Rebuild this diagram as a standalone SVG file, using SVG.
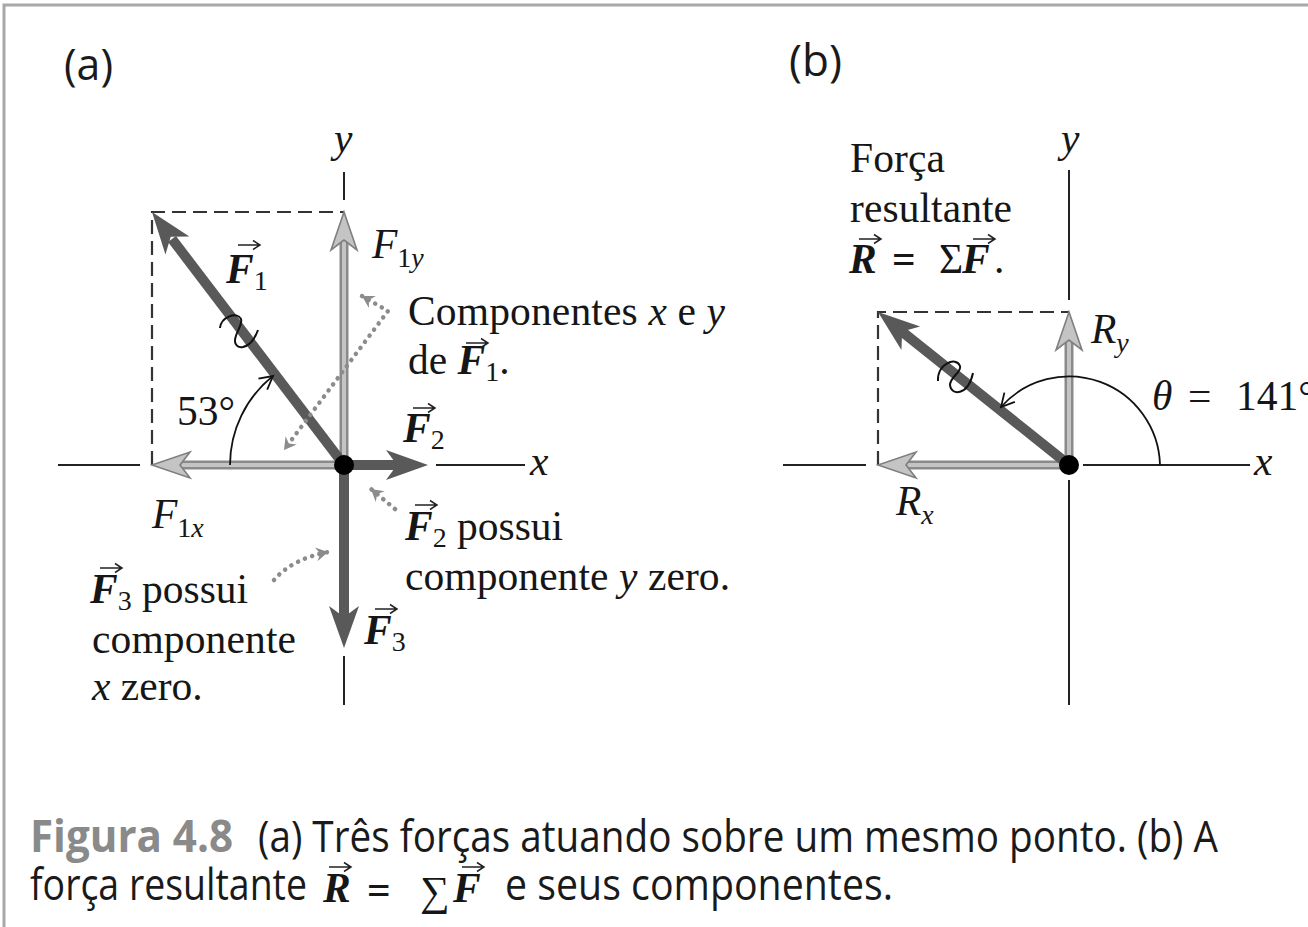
<svg xmlns="http://www.w3.org/2000/svg" xmlns:xlink="http://www.w3.org/1999/xlink" width="1308" height="927" viewBox="0 0 1308 927">
<style>
.ax{stroke:#222;stroke-width:2;fill:none}
.dash{stroke:#333;stroke-width:2.2;fill:none;stroke-dasharray:14 7}
.dk{stroke:#595959;stroke-width:10;fill:none}
.lo{stroke:#8a8a8a;stroke-width:9;fill:none}
.li{stroke:#c4c4c4;stroke-width:4;fill:none}
.arc{stroke:#111;stroke-width:1.8;fill:none}
.sq{stroke:#111;stroke-width:2;fill:none}
.dot{stroke:#8c8c8c;stroke-width:4.5;fill:none;stroke-dasharray:0.1 7.5;stroke-linecap:round}
.t{font-family:"Liberation Serif","Times New Roman",serif;font-size:41.5px;fill:#161616}
.i{font-style:italic}
.b{font-style:italic;font-weight:bold}
.sub{font-size:28px;font-style:normal;font-weight:normal}
.cap{font-family:"Open Sans","DejaVu Sans",sans-serif;font-size:44px;fill:#1a1a1a}
.vec{stroke:#222;stroke-width:1.5;fill:none}
</style>
<defs>
<path id="dh" d="M0,0 L-42,-15 L-31,0 L-42,15 Z" fill="#595959"/>
<path id="lh" d="M0,0 L-38,-13 L-28,0 L-38,13 Z" fill="#c4c4c4" stroke="#7f7f7f" stroke-width="1.6"/>
<path id="va" d="M0,5 H22 M15,0.5 L22,5 L15,9.5" class="vec"/>
<marker id="cm" markerUnits="userSpaceOnUse" markerWidth="20" markerHeight="20" refX="0" refY="0" viewBox="-14 -10 20 20" orient="auto">
<path d="M0,0 L-12,-7 L-8,0 L-12,7 Z" fill="#8c8c8c"/>
</marker>
<marker id="cms" markerUnits="userSpaceOnUse" markerWidth="20" markerHeight="20" refX="0" refY="0" viewBox="-14 -10 20 20" orient="auto-start-reverse">
<path d="M0,0 L-12,-7 L-8,0 L-12,7 Z" fill="#8c8c8c"/>
</marker>
<marker id="am" markerUnits="userSpaceOnUse" markerWidth="24" markerHeight="24" refX="0" refY="0" viewBox="-16 -12 24 24" orient="auto">
<path d="M-13,-7 L0,0 L-13,7" fill="none" stroke="#111" stroke-width="1.8"/>
</marker>
</defs>

<path id="border" d="M4,927 V5 H1308" stroke="#a8a8a8" stroke-width="3" fill="none"/>

<g id="panel-a">
<text x="64" y="80" class="cap" font-size="48" textLength="49" lengthAdjust="spacingAndGlyphs">(a)</text>
<g id="axes-a">
<path class="ax" d="M344,172 V200 M344,656 V705 M58,465 H140 M436,465 H525"/>
<text x="334" y="152" class="t i">y</text>
<text x="530" y="475" class="t i">x</text>
</g>
<path id="rect-a" class="dash" d="M152,465 V212 H344"/>
<g id="F1y">
<path class="lo" d="M344,465 V240"/><path class="li" d="M344,465 V240"/>
<use xlink:href="#lh" transform="translate(344,212) rotate(-90)"/>
<text x="372" y="258" class="t i">F<tspan class="sub" dy="9">1</tspan><tspan font-size="28">y</tspan></text>
</g>
<g id="F1x">
<path class="lo" d="M344,465 H180"/><path class="li" d="M344,465 H180"/>
<use xlink:href="#lh" transform="translate(152,465) rotate(180)"/>
<text x="152" y="528" class="t i">F<tspan class="sub" dy="9">1</tspan><tspan font-size="28">x</tspan></text>
</g>
<g id="F1">
<path class="dk" d="M344,465 L172,239"/>
<use xlink:href="#dh" transform="translate(152,212) rotate(-127.2)"/>
<path class="sq" d="M220,328 C221,317 237,311 241,319 C243,325 236,331 235,340 C234,350 250,352 258,330"/>
<use xlink:href="#va" x="238" y="240"/>
<text x="226" y="283" class="t b">F<tspan class="sub" dy="7">1</tspan></text>
</g>
<g id="F2">
<path class="dk" d="M344,465 H400"/>
<use xlink:href="#dh" transform="translate(428,465)"/>
<use xlink:href="#va" x="413" y="403"/>
<text x="403" y="442" class="t b">F<tspan class="sub" dy="7">2</tspan></text>
</g>
<g id="F3">
<path class="dk" d="M344,465 V620"/>
<use xlink:href="#dh" transform="translate(344,648) rotate(90)"/>
<use xlink:href="#va" x="375" y="604"/>
<text x="364" y="644" class="t b">F<tspan class="sub" dy="7">3</tspan></text>
</g>
<circle id="origin-a" cx="344" cy="465" r="10" fill="#000"/>
<g id="angle-a">
<path class="arc" d="M230,465 A114,114 0 0 1 273,376" marker-end="url(#am)"/>
<text x="177" y="425" class="t" font-size="37">53°</text>
</g>
<g id="label-comp">
<text x="408" y="325" class="t" textLength="317">Componentes <tspan class="i">x</tspan> e <tspan class="i">y</tspan></text>
<text x="408" y="374" class="t">de <tspan class="b">F</tspan><tspan class="sub" dy="7">1</tspan><tspan dy="-7">.</tspan></text>
<use xlink:href="#va" x="466" y="338"/>
</g>
<g id="label-F2">
<use xlink:href="#va" x="415" y="500"/>
<text x="405" y="540" class="t"><tspan class="b">F</tspan><tspan class="sub" dy="7">2</tspan><tspan dy="-7"> possui</tspan></text>
<text x="405" y="590" class="t" textLength="325">componente <tspan class="i">y</tspan> zero.</text>
</g>
<g id="label-F3">
<use xlink:href="#va" x="100" y="563"/>
<text x="90" y="603" class="t"><tspan class="b">F</tspan><tspan class="sub" dy="7">3</tspan><tspan dy="-7"> possui</tspan></text>
<text x="92" y="653" class="t" textLength="204">componente</text>
<text x="92" y="700" class="t"><tspan class="i">x</tspan> zero.</text>
</g>
</g>

<g id="panel-b">
<text x="789" y="76" class="cap" font-size="48" textLength="53" lengthAdjust="spacingAndGlyphs">(b)</text>
<g id="axes-b">
<path class="ax" d="M1069,170 V300 M1069,480 V705 M783,465 H866 M1083,465 H1250"/>
<text x="1061" y="152" class="t i">y</text>
<text x="1254" y="475" class="t i">x</text>
</g>
<path id="rect-b" class="dash" d="M878,465 V312 H1069"/>
<g id="Ry">
<path class="lo" d="M1069,465 V340"/><path class="li" d="M1069,465 V340"/>
<use xlink:href="#lh" transform="translate(1069,312) rotate(-90)"/>
<text x="1091" y="343" class="t i">R<tspan font-size="28" dy="9">y</tspan></text>
</g>
<g id="Rx">
<path class="lo" d="M1069,465 H906"/><path class="li" d="M1069,465 H906"/>
<use xlink:href="#lh" transform="translate(878,465) rotate(180)"/>
<text x="896" y="515" class="t i">R<tspan font-size="28" dy="9">x</tspan></text>
</g>
<g id="R">
<path class="dk" d="M1069,465 L900,330"/>
<use xlink:href="#dh" transform="translate(878,312) rotate(-141.3)"/>
<path class="sq" d="M938,381 C937,364 956,356 960,366 C962,372 950,377 950,385 C951,396 968,396 973,373"/>
</g>
<circle id="origin-b" cx="1069" cy="465" r="10" fill="#000"/>
<g id="angle-b">
<path class="arc" d="M1160,465 A91,91 0 0 0 1001,407" marker-end="url(#am)"/>
<text x="1152" y="410" class="t i">θ</text>
<text x="1188" y="410" class="t">=</text>
<text x="1236" y="410" class="t">141°</text>
</g>
<g id="label-R">
<text x="850" y="172" class="t" textLength="95">Força</text>
<text x="850" y="222" class="t" textLength="162">resultante</text>
<use xlink:href="#va" x="859" y="234"/>
<use xlink:href="#va" x="973" y="234"/>
<text x="849" y="273" class="t b">R</text>
<text x="892" y="273" class="t" font-weight="bold">=</text>
<text x="939" y="273" class="t">Σ</text>
<text x="962" y="273" class="t b">F</text>
<text x="994" y="273" class="t">.</text>
</g>
</g>

<g id="connectors">
<path class="dot" d="M362,296 L388,311 L284,450" marker-start="url(#cms)" marker-end="url(#cm)"/>
<path class="dot" d="M395,509 L371,489" marker-end="url(#cm)"/>
<path class="dot" d="M274,580 Q292,559 328,552" marker-end="url(#cm)"/>
</g>

<g id="caption">
<text x="30" y="852" class="cap" font-weight="bold" style="fill:#8a8a8a" textLength="203" lengthAdjust="spacingAndGlyphs">Figura 4.8</text>
<text x="258" y="852" class="cap" textLength="960" lengthAdjust="spacingAndGlyphs">(a) Três forças atuando sobre um mesmo ponto. (b) A</text>
<text x="30" y="900" class="cap" textLength="277" lengthAdjust="spacingAndGlyphs">força resultante</text>
<use xlink:href="#va" x="329" y="862"/>
<text x="323" y="902" class="t b" font-size="44">R</text>
<text x="367" y="904" class="t" font-weight="bold" font-size="56">=</text>
<text x="420" y="905" class="t" font-size="48">∑</text>
<use xlink:href="#va" x="462" y="862"/>
<text x="453" y="902" class="t b" font-size="44">F</text>
<text x="505" y="900" class="cap" textLength="388" lengthAdjust="spacingAndGlyphs">e seus componentes.</text>
</g>
</svg>
